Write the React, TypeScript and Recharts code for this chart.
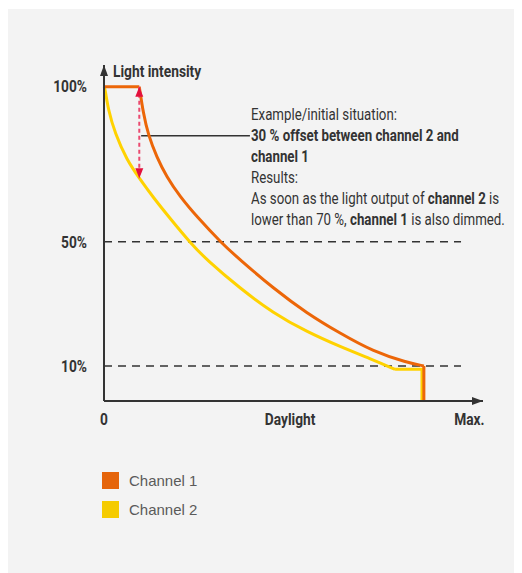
import { LineChart, Line, XAxis, YAxis, ReferenceLine, ReferenceDot } from "recharts";

// values (x = daylight 0..100, y = light intensity %)
const ch1FlatX = [0, 9.31];
const ch1FlatY = [100, 100];
const ch1CurveX = [9.31, 10.37, 11.69, 13.9, 16.5, 20.05, 24.5, 31.1, 35.9, 44.7, 53.5, 62.3, 71.1, 79.9, 84.4];
const ch1CurveY = [100, 91.4, 84.4, 77.4, 71.0, 64.6, 58.1, 49.5, 44.2, 35.0, 27.0, 20.5, 14.6, 11.1, 10.0];
const ch1DropX = [84.4, 84.4];
const ch1DropY = [10.0, -1.3];

const ch2CurveX = [0, 0.26, 1.13, 2.9, 6.0, 9.31, 13.0, 17.4, 22.9, 27.1, 35.9, 44.7, 53.5, 62.3, 71.1, 76.8];
const ch2CurveY = [100, 99.5, 92.5, 85.0, 76.4, 70.5, 64.3, 57.6, 49.5, 44.2, 35.0, 27.0, 21.0, 16.2, 11.9, 8.9];
const ch2TailX = [76.8, 83.9, 83.9];
const ch2TailY = [8.9, 8.9, -1.3];

const offsetArrowX = [9.31, 9.31];
const offsetArrowY = [100, 70.5];

const guideLevels = [50, 10];
const guideEnd = 94.2;
const leaderY = 84.2;
const leaderX = [9.8, 38.5];

const yTicks = [10, 50, 100];
const yTickLabels = ["10%", "50%", "100%"];
const xTicks = [0, 49.1, 96.4];
const xTickLabels = ["0", "Daylight", "Max."];

const seriesNames = ["Channel 1", "Channel 2"];
const seriesColors = ["#ec6608", "#ffd200"];
const legendColors = ["#e5640a", "#f5cb00"];

const zip = (xs: number[], ys: number[]) => xs.map((x, i) => ({ x, y: ys[i] }));

// no condensed font installed, so Roboto gets squeezed horizontally
const condFont = "Roboto, 'Noto Sans', sans-serif";
const squeeze = 0.86;
const noteSqueeze = 0.83;
const axisColor = "#333333";

const makeTick = (ticks: number[], labels: string[], dy: string) => (props: any) => {
  const { x, y, payload, textAnchor } = props;
  return (
    <text
      transform={`translate(${x},${y}) scale(${squeeze},1)`}
      textAnchor={textAnchor}
      dy={dy}
      fill={axisColor}
      fontSize={16}
      fontWeight={700}
      fontFamily={condFont}
    >
      {labels[ticks.indexOf(payload.value)]}
    </text>
  );
};

const XTick = makeTick(xTicks, xTickLabels, "0.71em");
const YTick = makeTick(yTicks, yTickLabels, "0.355em");

const ArrowDot = (props: any) => {
  const { cx, cy, index } = props;
  const d =
    index === 0
      ? `M${cx},${cy} L${cx - 4},${cy + 10} L${cx + 4},${cy + 10} Z`
      : `M${cx},${cy} L${cx - 4},${cy - 10} L${cx + 4},${cy - 10} Z`;
  return <path key={`a${index}`} d={d} fill="#e3103c" />;
};

const UpArrow = (props: any) => {
  const { cx, cy } = props;
  return <path d={`M${cx},${cy} L${cx - 4},${cy + 11} L${cx + 4},${cy + 11} Z`} fill={axisColor} />;
};

const RightArrow = (props: any) => {
  const { cx, cy } = props;
  return <path d={`M${cx},${cy} L${cx - 11},${cy - 4} L${cx - 11},${cy + 4} Z`} fill={axisColor} />;
};

const App = () => {
  return (
    <div
      style={{
        position: "relative",
        width: 513,
        height: 564,
        marginTop: 1,
        background: "#f3f3f3",
        fontFamily: condFont,
        color: axisColor,
      }}
    >
      <LineChart width={513} height={440} margin={{ top: 56, right: 38, left: 36, bottom: 8 }}>
        <XAxis
          type="number"
          dataKey="x"
          domain={[0, 100]}
          ticks={xTicks}
          tick={XTick}
          tickLine={false}
          tickSize={0}
          tickMargin={13}
          height={40}
          axisLine={{ stroke: axisColor, strokeWidth: 2 }}
          interval={0}
        />
        <YAxis
          type="number"
          dataKey="y"
          domain={[-1.3, 107]}
          ticks={yTicks}
          tick={YTick}
          tickLine={false}
          tickSize={0}
          tickMargin={17}
          width={60}
          axisLine={{ stroke: axisColor, strokeWidth: 2 }}
          interval={0}
        />
        {guideLevels.map((lvl) => (
          <ReferenceLine
            key={lvl}
            segment={[{ x: 0, y: lvl }, { x: guideEnd, y: lvl }]}
            stroke={axisColor}
            strokeWidth={1.5}
            strokeDasharray="8 6"
          />
        ))}
        <ReferenceLine
          segment={[{ x: leaderX[0], y: leaderY }, { x: leaderX[1], y: leaderY }]}
          stroke={axisColor}
          strokeWidth={1.5}
        />
        <Line data={zip(ch2CurveX, ch2CurveY)} dataKey="y" type="basis" stroke={seriesColors[1]} strokeWidth={3} dot={false} isAnimationActive={false} />
        <Line data={zip(ch2TailX, ch2TailY)} dataKey="y" type="linear" stroke={seriesColors[1]} strokeWidth={3} dot={false} isAnimationActive={false} />
        <Line data={zip(ch1FlatX, ch1FlatY)} dataKey="y" type="linear" stroke={seriesColors[0]} strokeWidth={3} dot={false} isAnimationActive={false} />
        <Line data={zip(ch1CurveX, ch1CurveY)} dataKey="y" type="basis" stroke={seriesColors[0]} strokeWidth={3} dot={false} isAnimationActive={false} />
        <Line data={zip(ch1DropX, ch1DropY)} dataKey="y" type="linear" stroke={seriesColors[0]} strokeWidth={3} dot={false} isAnimationActive={false} />
        <Line
          data={zip(offsetArrowX, offsetArrowY)}
          dataKey="y"
          type="linear"
          stroke="#ea4a70"
          strokeWidth={2}
          strokeDasharray="4 3"
          dot={ArrowDot}
          isAnimationActive={false}
        />
        <ReferenceDot x={0} y={107} r={0} shape={UpArrow} />
        <ReferenceDot x={100} y={-1.3} r={0} shape={RightArrow} />
      </LineChart>

      <div
        style={{
          position: "absolute",
          left: 105,
          top: 55,
          fontSize: 16,
          lineHeight: "16px",
          fontWeight: 700,
          whiteSpace: "nowrap",
          transform: `scaleX(${squeeze})`,
          transformOrigin: "0 0",
        }}
      >
        Light intensity
      </div>

      <div
        style={{
          position: "absolute",
          left: 243,
          top: 95,
          fontSize: 16,
          lineHeight: "21px",
          whiteSpace: "nowrap",
          transform: `scaleX(${noteSqueeze})`,
          transformOrigin: "0 0",
        }}
      >
        <div>Example/initial situation:</div>
        <div style={{ fontWeight: 700 }}>30 % offset between channel 2 and</div>
        <div style={{ fontWeight: 700 }}>channel 1</div>
        <div>Results:</div>
        <div>
          As soon as the light output of <b>channel 2</b> is
        </div>
        <div>
          lower than 70 %, <b>channel 1</b> is also dimmed.
        </div>
      </div>

      {seriesNames.map((name, i) => (
        <div
          key={name}
          style={{
            position: "absolute",
            left: 94,
            top: 463 + i * 29,
            display: "flex",
            alignItems: "center",
            fontFamily: "'Liberation Sans', Arial, sans-serif",
            fontSize: 15,
            color: "#5a5a5a",
          }}
        >
          <div style={{ width: 17, height: 17, background: legendColors[i], marginRight: 10 }} />
          <span>{name}</span>
        </div>
      ))}
    </div>
  );
};

export default App;
